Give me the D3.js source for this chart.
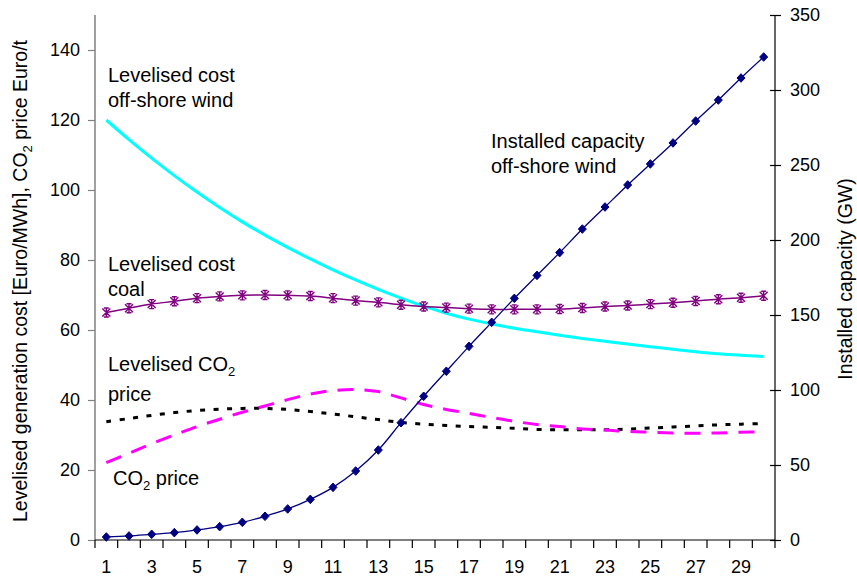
<!DOCTYPE html>
<html>
<head>
<meta charset="utf-8">
<script src="https://cdn.jsdelivr.net/npm/d3@7"></script>
<style>
  html, body { margin: 0; padding: 0; background: #fff; }
  svg { display: block; font-family: "Liberation Sans", Arial, sans-serif; }
</style>
</head>
<body>
<svg id="chart" width="857" height="578"></svg>
<script>
// Scenario years
const years = [1, 2, 3, 4, 5, 6, 7, 8, 9, 10, 11, 12, 13, 14, 15,
               16, 17, 18, 19, 20, 21, 22, 23, 24, 25, 26, 27, 28, 29, 30];

// Levelised cost of off-shore wind (Euro/MWh)
const windCost = [120.0, 114.4, 109.1, 104.1, 99.4, 95.0, 90.9, 87.1, 83.6, 80.3,
                  77.2, 74.3, 71.6, 69.1, 66.8, 64.8, 63.1, 61.7, 60.5, 59.5,
                  58.5, 57.6, 56.8, 56.0, 55.2, 54.5, 53.8, 53.2, 52.8, 52.4];

// Levelised cost of coal (Euro/MWh)
const coalCost = [65.0, 66.2, 67.4, 68.2, 69.1, 69.6, 69.9, 70.0, 69.9, 69.7,
                  69.1, 68.4, 67.9, 67.2, 66.7, 66.4, 66.1, 65.9, 65.9, 65.9,
                  66.0, 66.3, 66.7, 67.0, 67.4, 67.8, 68.3, 68.8, 69.2, 69.8];

// Levelised CO2 price (Euro/t)
const levCO2 = [33.8, 34.7, 35.6, 36.4, 37.0, 37.4, 37.6, 37.6, 37.3, 36.7,
                36.0, 35.2, 34.4, 33.6, 33.1, 32.7, 32.4, 32.2, 31.9, 31.6,
                31.5, 31.5, 31.5, 31.7, 32.0, 32.3, 32.6, 32.9, 33.1, 33.3];

// CO2 price (Euro/t)
const co2Price = [22.1, 24.8, 27.5, 30.0, 32.4, 34.5, 36.5, 38.3, 40.1, 41.7,
                  42.7, 43.0, 42.4, 40.6, 38.7, 37.3, 36.2, 35.0, 33.9, 33.0,
                  32.4, 31.7, 31.4, 31.0, 30.8, 30.6, 30.5, 30.6, 30.8, 30.9];

// Installed off-shore wind capacity (GW)
const capacity = [2.0, 2.7, 3.8, 4.9, 6.7, 8.9, 11.8, 15.8, 20.7, 27.1,
                  35.1, 46.0, 60.0, 78.2, 95.8, 112.5, 129.1, 145.1, 161.1, 176.4,
                  191.6, 207.3, 222.0, 236.7, 250.7, 264.7, 279.3, 293.3, 308.0, 322.0];

const leftTicks = [0, 20, 40, 60, 80, 100, 120, 140];
const rightTicks = [0, 50, 100, 150, 200, 250, 300, 350];
const xLabels = [1, 3, 5, 7, 9, 11, 13, 15, 17, 19, 21, 23, 25, 27, 29];

const svg = d3.select("#chart");
const plotL = 95, plotR = 775, plotT = 15, plotB = 540;

const x = d3.scaleBand().domain(years).range([plotL, plotR]).paddingInner(0).paddingOuter(0);
const cx = d => x(d) + x.bandwidth() / 2;
const yL = d3.scaleLinear().domain([0, 150]).range([plotB, plotT]);
const yR = d3.scaleLinear().domain([0, 350]).range([plotB, plotT]);

// Axes
const leftAxis = d3.axisLeft(yL).tickValues(leftTicks).tickSize(7).tickPadding(8);
const gL = svg.append("g").attr("transform", `translate(${plotL},0)`).call(leftAxis);
gL.select(".domain").attr("d", `M0,${plotT}V${plotB}`).attr("stroke", "#808080").attr("stroke-width", 1.5);
gL.selectAll(".tick line").attr("stroke", "#808080").attr("stroke-width", 1.2);
gL.selectAll(".tick text").attr("font-size", 18).attr("font-family", "Liberation Sans, Arial, sans-serif").attr("fill", "#000");

const rightAxis = d3.axisRight(yR).tickValues(rightTicks).tickSize(6).tickPadding(9);
const gR = svg.append("g").attr("transform", `translate(${plotR},0)`).call(rightAxis);
gR.select(".domain").attr("d", `M0,${plotT}V${plotB}`).attr("stroke", "#000").attr("stroke-width", 1.2);
gR.selectAll(".tick line").attr("x1", -5).attr("x2", 6).attr("stroke", "#000").attr("stroke-width", 1.2);
gR.selectAll(".tick text").attr("font-size", 18).attr("font-family", "Liberation Sans, Arial, sans-serif").attr("fill", "#000");

// Category axis: ticks between categories, labels on odd years
const gX = svg.append("g");
gX.append("line").attr("x1", plotL).attr("x2", plotR).attr("y1", plotB).attr("y2", plotB)
  .attr("stroke", "#000").attr("stroke-width", 1.2);
gX.selectAll("line.tk").data(years.concat([null])).join("line").attr("class", "tk")
  .attr("x1", (d, i) => plotL + i * x.bandwidth()).attr("x2", (d, i) => plotL + i * x.bandwidth())
  .attr("y1", plotB).attr("y2", plotB + 8).attr("stroke", "#000").attr("stroke-width", 1.2);
gX.selectAll("text").data(xLabels).join("text")
  .attr("x", d => cx(d)).attr("y", 573).attr("text-anchor", "middle")
  .attr("font-size", 18).text(d => d);

// Series lines
const lineL = d3.line().x((d, i) => cx(years[i])).y(d => yL(d)).curve(d3.curveCatmullRom.alpha(0.5));
const lineR = d3.line().x((d, i) => cx(years[i])).y(d => yR(d)).curve(d3.curveCatmullRom.alpha(0.5));

svg.append("path").datum(windCost).attr("d", lineL).attr("fill", "none")
  .attr("stroke", "#00FFFF").attr("stroke-width", 3);

svg.append("path").datum(levCO2).attr("d", lineL).attr("fill", "none")
  .attr("stroke", "#000").attr("stroke-width", 3).attr("stroke-dasharray", "5,8.5");

svg.append("path").datum(co2Price).attr("d", lineL).attr("fill", "none")
  .attr("stroke", "#FF00FF").attr("stroke-width", 3).attr("stroke-dasharray", "16,11");

svg.append("path").datum(coalCost).attr("d", lineL).attr("fill", "none")
  .attr("stroke", "#800080").attr("stroke-width", 1.5);

// Star markers on the coal series
const star = "M-4,-4L4,4M-4,4L4,-4M0,-4.5L0,4.5M-2.5,-4.5L2.5,-4.5M-2.5,4.5L2.5,4.5";
svg.append("g").selectAll("path").data(coalCost).join("path")
  .attr("transform", (d, i) => `translate(${cx(years[i])},${yL(d)})`)
  .attr("d", star).attr("fill", "none").attr("stroke", "#800080").attr("stroke-width", 1.4);

svg.append("path").datum(capacity).attr("d", lineR).attr("fill", "none")
  .attr("stroke", "#000080").attr("stroke-width", 1.3);

// Diamond markers on the capacity series
const diamond = "M0,-4.3L4,0L0,4.3L-4,0Z";
svg.append("g").selectAll("path").data(capacity).join("path")
  .attr("transform", (d, i) => `translate(${cx(years[i])},${yR(d)})`)
  .attr("d", diamond).attr("fill", "#000080").attr("stroke", "#000080").attr("stroke-width", 1);

// Series annotations; a line is either plain text or a list of
// [text, isSubscript] pieces
function label(lines, xPos, yPos) {
  const t = svg.append("text").attr("x", xPos).attr("y", yPos).attr("font-size", 20).attr("fill", "#000");
  lines.forEach((ln, k) => {
    const ts = t.append("tspan").attr("x", xPos).attr("dy", k === 0 ? 0 : 25);
    if (typeof ln === "string") {
      ts.text(ln);
    } else {
      let shifted = 0;
      ln.forEach(([str, isSub]) => {
        const dy = isSub ? 5 - shifted : -shifted;
        shifted = isSub ? 5 : 0;
        ts.append("tspan").attr("dy", dy).attr("font-size", isSub ? 13 : 20).text(str);
      });
    }
  });
}
label(["Levelised cost", "off-shore wind"], 108, 82);
label(["Installed capacity", "off-shore wind"], 491, 148);
label(["Levelised cost", "coal"], 108, 271);
label([[["Levelised CO", false], ["2", true]], "price"], 108, 371);
label([[["CO", false], ["2", true], [" price", false]]], 113, 485);

// Axis titles
const tl = svg.append("text").attr("transform", "translate(27,281) rotate(-90)")
  .attr("text-anchor", "middle").attr("font-size", 19.5);
tl.append("tspan").text("Levelised generation cost [Euro/MWh], CO");
tl.append("tspan").attr("font-size", 13).attr("dy", 5).text("2");
tl.append("tspan").attr("dy", -5).text(" price Euro/t");

svg.append("text").attr("transform", "translate(852,279) rotate(-90)")
  .attr("text-anchor", "middle").attr("font-size", 19.5).text("Installed capacity (GW)");
</script>
</body>
</html>
